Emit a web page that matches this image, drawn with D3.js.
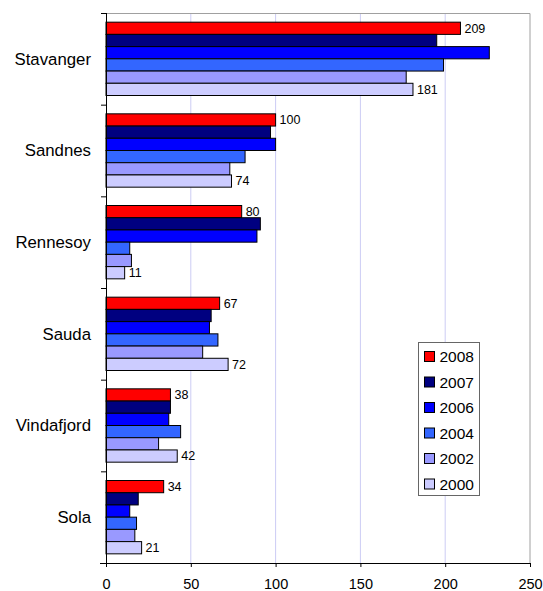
<!DOCTYPE html>
<html>
<head>
<meta charset="utf-8">
<script src="https://cdn.jsdelivr.net/npm/d3@7"></script>
<style>
  body { margin: 0; background: #fff; }
  text { font-family: "Liberation Sans", Arial, sans-serif; fill: #000; }
</style>
</head>
<body>
<div id="chart"></div>
<script>
// Chart data
var towns = ["Stavanger", "Sandnes", "Rennesoy", "Sauda", "Vindafjord", "Sola"];
var years = ["2008", "2007", "2006", "2004", "2002", "2000"];
var colors = ["#ff0000", "#000080", "#0000ff", "#3366ff", "#9999ff", "#ccccff"];

// one array per year, in town order
var v2008 = [209, 100, 80, 67, 38, 34];
var v2007 = [195, 97, 91, 62, 38, 19];
var v2006 = [226, 100, 89, 61, 37, 14];
var v2004 = [199, 82, 14, 66, 44, 18];
var v2002 = [177, 73, 15, 57, 31, 17];
var v2000 = [181, 74, 11, 72, 42, 21];
var xTicks = [0, 50, 100, 150, 200, 250];

var series = [v2008, v2007, v2006, v2004, v2002, v2000];

var svgWidth = 543;
var svgHeight = 591;
var margin = { top: 13, right: 13, bottom: 28, left: 106 };
var width = svgWidth - margin.left - margin.right;
var height = svgHeight - margin.top - margin.bottom;

var svg = d3.select("#chart")
  .append("svg")
  .attr("width", svgWidth)
  .attr("height", svgHeight);

var chartGroup = svg.append("g")
  .attr("transform", `translate(${margin.left}, ${margin.top})`);

// Scales
var x = d3.scaleLinear().domain([0, 250]).range([0, width]);
var y = d3.scaleBand().domain(towns).range([0, height])
  .paddingInner(0.2).paddingOuter(0.1);
var yInner = d3.scaleBand().domain(years).range([0, y.bandwidth()]);

// Grid lines
chartGroup.selectAll(".grid")
  .data(xTicks.slice(1, -1))
  .enter()
  .append("line")
  .attr("x1", d => x(d))
  .attr("x2", d => x(d))
  .attr("y1", 0)
  .attr("y2", height)
  .attr("stroke", "#ccccf4")
  .attr("stroke-width", 1);

// Plot border (top and right)
chartGroup.append("path")
  .attr("d", `M0,0.5H${width}V${height}`)
  .attr("fill", "none")
  .attr("stroke", "#a0a0a0")
  .attr("stroke-width", 1);

// Bars
var townGroups = chartGroup.selectAll(".town")
  .data(towns)
  .enter()
  .append("g")
  .attr("transform", d => `translate(0, ${y(d)})`);

townGroups.each(function(town, ti) {
  var g = d3.select(this);
  years.forEach(function(yr, yi) {
    var val = series[yi][ti];
    g.append("rect")
      .attr("x", x(0))
      .attr("y", yInner(yr))
      .attr("width", x(val) - x(0))
      .attr("height", yInner.bandwidth())
      .attr("fill", colors[yi])
      .attr("stroke", "#000")
      .attr("stroke-width", 1);
    // labels only for first and last year
    if (yi === 0 || yi === years.length - 1) {
      g.append("text")
        .attr("x", x(val) + 4)
        .attr("y", yInner(yr) + yInner.bandwidth() / 2)
        .attr("dy", "0.35em")
        .style("font-size", "12.5px")
        .text(val);
    }
  });
});

// Bottom axis
var xAxis = d3.axisBottom(x).tickValues(xTicks).tickSize(4).tickPadding(12);
var xg = chartGroup.append("g")
  .attr("transform", `translate(0, ${height})`)
  .call(xAxis);
xg.select(".domain").attr("d", `M-6,0.5H${width}`).attr("stroke", "#000");
xg.selectAll(".tick line").attr("stroke", "#000");
xg.selectAll("text").style("font-size", "14.5px").style("font-family", "\"Liberation Sans\", Arial, sans-serif");

// Left axis line with ticks at category boundaries
chartGroup.append("line")
  .attr("x1", 0.5).attr("x2", 0.5)
  .attr("y1", 0).attr("y2", height + 4)
  .attr("stroke", "#000");

chartGroup.selectAll(".ytick")
  .data(d3.range(towns.length + 1))
  .enter()
  .append("line")
  .attr("x1", -5)
  .attr("x2", 0)
  .attr("y1", i => i * y.step() + 0.5)
  .attr("y2", i => i * y.step() + 0.5)
  .attr("stroke", "#000");

// Category labels
chartGroup.selectAll(".townLabel")
  .data(towns)
  .enter()
  .append("text")
  .attr("x", -15)
  .attr("y", d => y(d) + y.bandwidth() / 2)
  .attr("dy", "0.35em")
  .attr("text-anchor", "end")
  .style("font-size", "16.8px")
  .text(d => d);

// Legend
var legend = svg.append("g")
  .attr("transform", "translate(418.5, 342.5)");

legend.append("rect")
  .attr("width", 61)
  .attr("height", 153)
  .attr("fill", "#fff")
  .attr("stroke", "#666")
  .attr("stroke-width", 1);

var items = legend.selectAll(".item")
  .data(years)
  .enter()
  .append("g")
  .attr("transform", (d, i) => `translate(6, ${14 + i * 25.5})`);

items.append("rect")
  .attr("x", 0)
  .attr("y", -5)
  .attr("width", 10)
  .attr("height", 10)
  .attr("fill", (d, i) => colors[i])
  .attr("stroke", "#000");

items.append("text")
  .attr("x", 15)
  .attr("y", 0)
  .attr("dy", "0.36em")
  .style("font-size", "15.5px")
  .text(d => d);
</script>
</body>
</html>
